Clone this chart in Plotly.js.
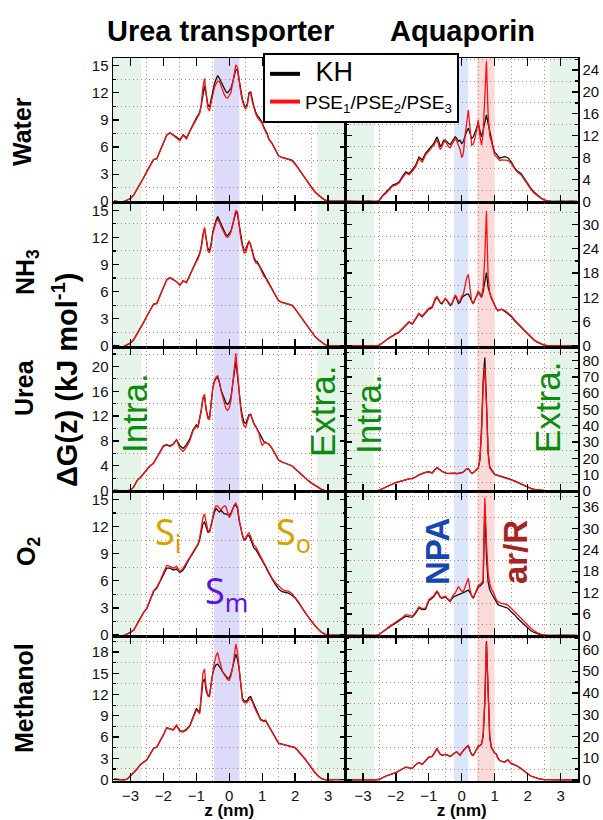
<!DOCTYPE html>
<html><head><meta charset="utf-8">
<script src="https://cdn.plot.ly/plotly-3.0.1.min.js"></script>
<style>body{margin:0;background:#fff}#chart{width:603px;height:820px}</style>
</head><body><div id="chart"></div>
<script>
// z (nm)
const z = [-3.5,-3.4,-3.3,-3.2,-3.1,-3.0,-2.9,-2.8,-2.7,-2.6,-2.5,-2.4,-2.3,-2.2,-2.1,-2.0,-1.9,-1.8,-1.7,-1.6,-1.5,-1.4,-1.3,-1.2,-1.1,
 -1.0,-0.95,-0.9,-0.85,-0.8,-0.75,-0.7,-0.65,-0.6,-0.55,-0.5,-0.45,-0.4,-0.35,-0.3,-0.25,-0.2,-0.15,-0.1,-0.05,0,
 0.05,0.1,0.15,0.2,0.25,0.3,0.35,0.4,0.45,0.5,0.55,0.6,0.65,0.7,0.75,0.8,0.85,0.9,0.95,1.0,1.05,1.1,1.15,1.2,
 1.3,1.4,1.5,1.6,1.7,1.8,1.9,2.0,2.1,2.2,2.3,2.4,2.5,2.6,2.7,2.8,2.9,3.0,3.1,3.2,3.3,3.4,3.5];

// Urea transporter
const utWaterKH = [0.05,0,-0.1,-0.05,0.1,0.3,0.7,1.3,2.0,2.6,3.3,4.0,4.6,4.7,5.5,6.5,7.3,7.55,7.35,7.1,6.8,7.35,7.0,7.8,8.5,
 9.2,9.5,9.8,10.6,12.0,12.8,11.8,10.7,10.4,11.2,12.3,13.0,13.5,13.9,13.6,13.2,12.8,12.4,12.1,12.0,12.2,
 12.5,13.1,13.8,14.6,14.5,13.3,12.2,11.3,10.7,10.4,10.8,12.0,12.1,11.2,10.5,9.9,9.5,9.3,9.0,8.7,8.2,7.9,7.5,6.9,
 6.4,5.7,5.0,4.85,4.75,4.65,4.55,4.15,3.6,3.0,2.5,2.0,1.5,1.05,0.7,0.4,0.15,0,0,0.02,0,0.02,0];
const utWaterPSE = [0.05,0,-0.1,-0.05,0.1,0.3,0.7,1.3,2.0,2.6,3.3,4.0,4.6,4.7,5.5,6.5,7.3,7.6,7.3,7.0,6.7,7.3,6.9,7.7,8.4,
 9.1,9.4,9.7,10.7,12.6,13.6,11.5,10.3,10.0,10.8,11.9,12.6,13.0,13.3,13.3,12.8,12.2,11.8,11.5,11.4,11.7,
 12.0,13.0,14.0,15.1,14.8,13.3,12.0,11.1,10.5,10.2,10.6,11.9,12.0,11.0,10.3,9.7,9.3,9.1,8.9,8.6,8.1,7.8,7.4,6.9,
 6.4,5.7,5.0,4.85,4.75,4.65,4.5,4.1,3.6,3.0,2.5,2.0,1.5,1.05,0.7,0.4,0.15,0,0,0.02,0,0.02,0];
const utNH3KH = [0.05,0,-0.1,-0.05,0.1,0.3,0.7,1.3,2.0,2.6,3.3,4.0,4.6,4.7,5.5,6.5,7.3,7.55,7.3,7.1,6.7,7.2,7.0,7.8,8.6,
 9.4,9.7,10.2,11.0,12.3,13.0,12.0,10.8,10.5,11.3,12.6,13.4,13.9,14.3,13.9,13.4,13.0,12.6,12.3,12.2,12.4,
 12.7,13.3,14.0,14.8,14.6,13.3,12.1,11.2,10.6,10.6,11.2,11.6,11.2,10.4,9.8,9.4,9.3,9.0,8.6,8.2,7.8,7.6,7.3,6.9,
 6.3,5.6,5.0,4.8,4.7,4.6,4.5,4.1,3.6,3.0,2.5,2.0,1.5,1.05,0.7,0.4,0.15,0,0,0.02,0,0.02,0];
const utNH3PSE = [0.05,0,-0.1,-0.05,0.1,0.3,0.7,1.3,2.0,2.6,3.3,4.0,4.6,4.7,5.5,6.5,7.3,7.55,7.3,7.1,6.7,7.2,7.0,7.8,8.6,
 9.3,9.6,10.1,10.9,12.3,13.1,11.8,10.5,10.3,11.1,12.4,13.2,13.7,14.0,13.7,13.2,12.8,12.4,12.1,12.0,12.2,
 12.6,13.3,14.1,15.0,14.8,13.3,11.9,11.0,10.3,10.3,11.0,11.6,11.1,10.2,9.6,9.2,9.1,8.9,8.5,8.1,7.7,7.5,7.2,6.9,
 6.3,5.6,5.0,4.8,4.7,4.6,4.5,4.1,3.6,3.0,2.5,2.0,1.5,1.05,0.7,0.4,0.15,0,0,0.02,0,0.02,0];
const utUreaKH = [0.05,0,-0.1,-0.1,0,0.05,0.6,1.6,2.1,2.7,3.4,4.0,4.4,5.3,6.2,7.2,7.4,7.2,7.5,8.2,7.2,6.8,7.4,8.3,9.8,
 10.6,10.3,11.5,13.0,14.8,15.0,13.0,11.9,11.7,14.0,16.5,17.6,18.1,18.2,17.4,16.2,15.5,14.8,14.1,13.9,14.2,
 15.0,17.2,19.2,20.8,18.5,15.7,13.5,12.0,11.0,10.8,11.6,12.2,12.3,11.5,10.8,10.4,10.0,9.4,8.9,8.4,7.9,7.7,7.6,7.5,
 6.8,5.8,4.9,4.6,4.4,4.3,4.0,3.5,3.0,2.5,2.0,1.6,1.2,0.85,0.5,0.2,0,-0.05,-0.05,0,0,0,0];
const utUreaPSE = [0.05,0,-0.1,-0.1,0,0.05,0.6,1.6,2.1,2.7,3.4,4.0,4.4,5.3,6.2,7.1,7.3,7.1,7.4,8.2,6.8,6.3,7.0,8.0,9.6,
 10.4,10.1,11.3,12.8,15.0,15.5,13.0,11.6,11.4,13.8,16.5,17.7,18.3,18.5,17.6,16.1,15.0,14.0,13.2,12.9,13.3,
 14.5,17.3,20.0,22.1,19.0,15.5,13.0,11.2,10.4,10.2,11.0,12.0,12.3,11.5,10.7,10.3,9.9,9.3,8.0,7.3,7.6,7.8,7.6,7.5,
 6.8,5.8,4.9,4.6,4.4,4.3,4.0,3.5,3.0,2.5,2.0,1.6,1.2,0.85,0.5,0.2,0,-0.05,-0.05,0,0,0,0];
const utO2KH = [0.05,0,-0.1,-0.05,0.1,0.3,0.55,1.2,2.0,2.5,2.95,3.9,4.8,5.2,5.9,6.7,7.4,7.4,7.2,7.3,6.9,7.2,7.9,8.5,9.1,
 9.75,10.0,10.5,11.4,12.3,12.5,11.8,11.4,11.4,12.2,13.0,13.6,14.0,13.8,13.6,13.8,13.6,13.4,13.4,13.3,13.2,
 13.5,14.0,14.3,14.4,14.0,12.7,11.8,11.0,10.5,10.6,11.0,11.0,10.6,10.0,9.6,9.5,9.2,8.9,8.5,8.27,8.0,7.6,7.2,6.8,
 6.2,5.6,5.1,4.8,4.7,4.65,4.4,4.1,3.6,3.0,2.5,2.0,1.5,1.05,0.65,0.3,0.1,0,0,0.02,0,0.02,0];
const utO2PSE = [0.05,0,-0.1,-0.05,0.1,0.3,0.55,1.2,2.0,2.5,3.0,4.0,4.9,5.3,6.0,6.9,7.7,7.6,7.4,7.6,7.0,7.4,8.0,8.6,9.2,
 9.8,10.1,10.7,11.8,13.0,13.4,12.5,11.6,11.4,12.3,13.2,13.9,14.3,14.3,14.0,13.9,14.1,14.3,14.2,13.5,13.0,
 13.3,13.9,14.4,14.6,14.2,12.8,11.9,11.1,10.6,10.7,11.1,11.3,10.9,10.3,9.9,9.8,9.5,9.1,8.7,8.4,8.1,7.7,7.3,6.9,
 6.3,5.8,5.4,5.1,4.9,4.85,4.6,4.2,3.7,3.1,2.5,2.0,1.5,1.05,0.65,0.3,0.1,0,0,0.02,0,0.02,0];
const utMethKH = [0.05,0,-0.1,-0.05,0.05,0.5,1.0,1.5,2.1,2.5,2.8,3.6,4.4,4.6,5.4,6.3,7.3,7.2,7.0,7.6,6.9,6.8,7.1,7.6,8.8,
 10.0,9.8,9.4,11.5,13.8,14.2,12.5,11.9,11.9,13.5,15.0,15.8,16.2,16.3,16.0,15.6,15.2,14.9,14.6,14.3,14.3,
 14.9,15.8,16.8,17.7,17.0,15.6,13.5,11.5,11.1,11.0,11.2,11.6,11.7,11.2,10.5,10.1,9.6,9.0,8.5,8.4,8.3,8.4,8.0,7.5,
 6.75,6.0,5.1,5.0,4.9,4.75,4.65,4.5,4.0,3.5,2.9,2.3,1.6,1.0,0.5,0.15,0,-0.05,-0.05,0,0,0,0];
const utMethPSE = [0.05,0,-0.1,-0.05,0.05,0.5,1.0,1.5,2.1,2.5,2.8,3.6,4.4,4.6,5.4,6.3,7.3,7.2,7.0,7.7,6.8,6.7,7.0,7.5,8.6,
 9.8,9.6,9.3,12.0,15.0,15.6,13.0,11.8,11.7,13.4,15.2,16.5,17.5,17.9,16.8,15.8,15.2,14.8,14.5,14.1,14.0,
 14.6,15.7,17.3,19.1,18.0,15.7,13.0,11.2,10.9,10.8,10.9,11.3,11.4,11.0,10.3,9.9,9.4,8.9,8.4,8.3,8.2,8.3,7.9,7.5,
 6.75,6.0,5.1,5.0,4.9,4.75,4.65,4.5,4.0,3.5,2.9,2.3,1.6,1.0,0.5,0.15,0,-0.05,-0.05,0,0,0,0];

// Aquaporin
const aqWaterKH = [0.05,0,0.05,0,0,0.05,0,0.05,0,0,0.2,1.1,1.7,2.3,3.0,3.2,3.6,4.6,5.4,5.1,5.8,6.6,8.1,7.6,8.8,
 9.5,9.8,10.3,10.6,11.2,11.8,11.0,10.0,10.5,11.2,11.2,10.8,10.6,10.4,10.8,11.4,11.8,11.5,11.0,11.2,10.5,
 11.0,12.0,12.8,13.4,12.5,11.5,11.8,12.5,13.3,14.2,13.0,11.8,13.0,14.8,15.8,14.2,12.5,11.5,10.0,9.0,8.7,8.3,7.9,8.0,
 8.2,8.0,7.3,6.2,5.5,5.1,4.2,3.2,2.4,1.7,1.15,0.7,0.3,0.1,0.05,0,0,0.05,0,0,0.05,0,0];
const aqWaterPSE = [0.05,0,0.05,0,0,0.05,0,0.05,0,0,0.2,1.0,1.5,2.1,2.8,3.0,3.4,4.3,5.2,4.9,5.5,6.3,7.8,7.2,8.5,
 9.2,9.5,10.0,10.2,10.8,11.3,10.3,9.5,10.0,10.8,11.0,10.4,10.0,9.8,10.4,11.0,11.5,11.0,10.2,9.5,8.0,
 8.8,12.0,15.0,16.7,13.5,10.3,10.5,11.5,13.0,14.9,12.0,10.3,12.5,20.0,25.6,16.0,12.0,11.0,9.6,8.5,8.2,7.8,7.5,7.6,
 7.6,7.5,7.0,6.0,5.3,4.9,4.0,3.0,2.2,1.5,1.0,0.6,0.25,0.1,0.05,0,0,0.05,0,0,0.05,0,0];
const aqNH3KH = [0.05,0,0.05,0,0,0.05,0,0.05,0,0,0.2,0.9,1.4,2.0,2.6,3.0,3.4,4.2,5.2,5.9,5.4,6.6,7.9,7.2,8.2,
 9.1,9.3,9.5,10.5,11.5,12.0,11.3,10.6,10.4,11.0,11.6,11.2,10.5,10.0,10.3,11.5,12.4,11.6,10.5,10.8,11.8,
 12.3,12.6,12.8,12.8,12.0,10.8,10.4,11.5,12.5,13.2,12.8,12.0,13.5,16.0,18.1,14.5,12.8,11.8,11.0,10.0,9.2,8.7,8.9,9.1,
 8.6,7.9,7.3,6.3,5.4,4.6,3.8,3.0,2.2,1.4,0.9,0.5,0.2,0.1,0,0,0,0.05,0,0,0.05,0,0];
const aqNH3PSE = [0.05,0,0.05,0,0,0.05,0,0.05,0,0,0.2,0.9,1.4,2.0,2.6,3.0,3.5,4.3,5.3,6.0,5.5,6.8,8.1,7.4,8.4,
 9.3,9.5,9.7,10.8,11.8,12.2,11.5,10.8,10.6,11.2,11.8,11.4,10.7,10.2,10.5,11.8,12.6,12.0,11.0,11.2,12.3,
 12.8,14.5,16.8,17.7,14.5,11.0,10.4,11.6,12.8,13.5,13.0,12.2,14.5,22.0,33.3,17.0,13.0,12.0,11.0,10.0,9.2,8.7,8.9,9.1,
 8.8,8.1,7.5,6.5,5.6,4.8,4.0,3.1,2.3,1.5,1.0,0.6,0.25,0.1,0,0,0,0.05,0,0,0.05,0,0];
const aqUreaKH = [0.1,0,0.1,0,0,0.1,0,0.1,0,0,0.5,1.5,2.6,3.4,4.2,5.0,5.7,6.3,7.0,7.4,7.7,8.5,9.8,10.7,11.3,
 11.7,11.5,11.0,12.2,13.5,14.4,13.5,12.6,12.0,11.5,11.0,10.7,10.7,10.8,10.6,10.7,10.9,10.6,10.7,10.9,11.2,
 11.6,12.5,13.5,13.6,12.0,10.8,11.2,12.2,12.6,14.0,19.0,38.0,68.0,82.0,55.0,24.0,14.5,12.8,11.0,10.2,9.8,9.4,9.0,8.7,
 8.2,7.6,7.0,6.2,5.2,4.2,3.0,2.2,1.5,0.9,0.6,0.3,0.1,0,0,0.1,0,0,0.1,0,0,0.1,0];
const aqUreaPSE = [0.1,0,0.1,0,0,0.1,0,0.1,0,0,0.5,1.5,2.6,3.4,4.2,5.0,5.7,6.3,7.0,7.4,7.7,8.5,9.8,10.7,11.3,
 11.6,11.4,11.0,12.0,13.3,14.2,13.4,12.5,11.9,11.4,10.9,10.6,10.6,10.7,10.5,10.6,10.8,10.5,10.6,10.8,11.1,
 11.6,12.5,13.5,13.6,12.0,10.8,11.2,12.2,12.6,14.0,19.0,36.0,64.0,76.0,53.0,23.0,14.0,12.5,10.8,10.0,9.6,9.2,8.9,8.6,
 8.0,7.4,6.8,6.0,5.0,4.0,2.9,2.1,1.4,0.8,0.5,0.3,0.1,0,0,0.1,0,0,0.1,0,0,0.1,0];
const aqO2KH = [0.05,0,0.05,0,0,0.05,0,0.05,0,0,0.3,1.0,1.7,2.3,2.9,3.5,4.1,4.7,5.4,5.2,5.1,6.2,7.7,7.2,7.3,
 9.7,10.0,10.3,10.8,11.6,12.2,11.5,10.6,10.4,10.6,10.8,10.3,9.8,9.5,10.2,10.8,11.0,11.2,11.3,11.4,11.6,
 11.9,12.2,12.5,12.7,12.0,11.0,10.4,11.5,12.8,13.5,13.8,14.2,14.8,36.8,22.0,15.0,12.8,11.8,10.9,10.0,9.2,8.6,8.4,8.2,
 8.0,7.6,6.6,5.8,4.7,3.8,2.9,2.0,1.3,0.8,0.4,0.15,0.05,0,0,0,0,0.05,0,0,0.05,0,0];
const aqO2PSE = [0.05,0,0.05,0,0,0.05,0,0.05,0,0,0.3,1.1,1.9,2.5,3.1,3.7,4.4,5.0,5.8,5.5,5.4,6.5,8.0,7.5,7.6,
 10.0,10.3,10.6,11.1,11.9,12.4,11.7,10.8,10.6,10.8,11.0,10.5,10.0,9.7,10.6,11.5,11.8,12.8,13.7,13.0,12.4,
 12.3,13.5,15.0,16.0,13.0,11.0,10.4,11.6,13.0,14.0,14.3,14.6,15.5,38.6,26.0,17.5,14.5,13.0,12.3,11.0,10.0,9.5,9.2,9.0,
 8.8,8.5,7.6,6.7,5.7,4.7,3.8,2.8,2.0,1.3,0.7,0.35,0.1,0,0,0,0,0.05,0,0,0.05,0,0];
const aqMethKH = [0.05,0,0.05,0,0,0.05,0,0.05,0,0,0.3,1.1,1.8,2.3,2.8,3.35,4.2,5.0,5.9,5.5,5.3,7.0,8.0,7.1,8.6,
 10.5,10.6,10.8,12.0,13.5,14.3,13.0,11.8,11.3,11.5,11.7,11.5,11.0,10.8,11.3,12.2,12.6,12.8,12.0,11.3,12.5,
 13.8,14.5,15.2,15.8,13.5,11.8,11.3,12.5,14.0,15.5,15.8,16.5,20.0,35.0,63.8,40.0,20.0,15.0,13.5,12.5,12.0,10.0,9.0,8.6,
 8.2,9.2,7.6,7.0,6.3,5.2,3.8,2.8,1.8,1.2,0.6,0.3,0.1,0,0,0,0.05,0,0,0.05,0,0,0];
const aqMethPSE = [0.05,0,0.05,0,0,0.05,0,0.05,0,0,0.3,1.1,1.8,2.3,2.8,3.35,4.2,5.0,5.9,5.5,5.3,7.0,8.0,7.1,8.6,
 10.5,10.6,10.8,12.0,13.5,14.3,13.0,11.8,11.3,11.5,11.7,11.5,11.0,10.8,11.3,12.2,12.6,12.8,12.0,11.3,12.5,
 13.6,14.3,15.0,15.6,13.3,11.6,11.2,12.4,13.9,15.4,15.6,16.3,21.0,36.4,63.0,38.0,19.0,14.8,13.3,12.3,11.8,9.8,8.9,8.5,
 8.2,9.2,7.6,7.0,6.3,5.2,3.8,2.8,1.8,1.2,0.6,0.3,0.1,0,0,0,0.05,0,0,0.05,0,0,0];

// Regions (nm)
const bulkEdge = [-2.67, 2.67];
const utSmBand = [-0.46, 0.31];
const aqNpaBand = [-0.23, 0.2];
const aqArBand = [0.47, 1.0];

const seriesNames = ['KH', 'PSE<sub>1</sub>/PSE<sub>2</sub>/PSE<sub>3</sub>'];
const rowLabels = ['Water', 'NH<sub>3</sub>', 'Urea', 'O<sub>2</sub>', 'Methanol'];
const colTitles = ['Urea transporter', 'Aquaporin'];

const XR = [-3.53, 3.53];
const panels = [
  {kh: utWaterKH, pse: utWaterPSE, yr: [-0.15, 15.85], dt: 3},
  {kh: aqWaterKH, pse: aqWaterPSE, yr: [-0.2, 26.2], dt: 4},
  {kh: utNH3KH, pse: utNH3PSE, yr: [-0.15, 15.85], dt: 3},
  {kh: aqNH3KH, pse: aqNH3PSE, yr: [-0.3, 35.4], dt: 6},
  {kh: utUreaKH, pse: utUreaPSE, yr: [-0.2, 23.1], dt: 4},
  {kh: aqUreaKH, pse: aqUreaPSE, yr: [-0.6, 88.3], dt: 10},
  {kh: utO2KH, pse: utO2PSE, yr: [-0.15, 15.85], dt: 3},
  {kh: aqO2KH, pse: aqO2PSE, yr: [-0.3, 40.3], dt: 6},
  {kh: utMethKH, pse: utMethPSE, yr: [-0.2, 20.2], dt: 3},
  {kh: aqMethKH, pse: aqMethPSE, yr: [-0.5, 66], dt: 10}
];

const FONT = 'Liberation Sans, Arial, sans-serif';
const GRID = 'rgba(205,80,80,0.75)';
const GDASH = '1px,3px';
const M = {l: 113, r: 25, t: 58, b: 39};
const W = 603 - M.l - M.r, H = 820 - M.t - M.b;
const px = x => (x - M.l) / W;
const py = y => (820 - M.b - y) / H;

const traces = [];
const layout = {
  width: 603, height: 820, margin: M,
  paper_bgcolor: '#fff', plot_bgcolor: '#fff',
  showlegend: true,
  legend: {x: px(263), y: py(53), xanchor: 'left', yanchor: 'top', bgcolor: '#fff',
    bordercolor: '#000', borderwidth: 2, font: {family: FONT, size: 19, color: '#000'},
    itemwidth: 30, tracegroupgap: 0},
  shapes: [], annotations: []
};

panels.forEach((p, i) => {
  const n = i + 1, r = Math.floor(i / 2), c = i % 2;
  const sfx = n === 1 ? '' : String(n);
  traces.push({x: z, y: p.kh, xaxis: 'x' + sfx, yaxis: 'y' + sfx, mode: 'lines',
    line: {color: '#111', width: 1.3}, showlegend: false, hoverinfo: 'skip'});
  traces.push({x: z, y: p.pse, xaxis: 'x' + sfx, yaxis: 'y' + sfx, mode: 'lines',
    line: {color: '#ff1010', width: 1.3}, showlegend: false, hoverinfo: 'skip'});
  layout['xaxis' + sfx] = {
    domain: c === 0 ? [0, 0.5] : [0.5, 1], anchor: 'y' + sfx, range: XR,
    tick0: 0, dtick: 1, ticks: 'inside', ticklen: 8, tickwidth: 1.3, tickcolor: '#000',
    showline: true, linecolor: '#000', linewidth: 1.5, mirror: 'ticks',
    showgrid: false, zeroline: false, showticklabels: r === 4,
    tickfont: {family: FONT, size: 15, color: '#111'},
    minor: {tick0: 0.5, dtick: 1, showgrid: true, gridcolor: GRID, griddash: GDASH, gridwidth: 1},
    title: r === 4 ? {text: '<b>z (nm)</b>', font: {family: FONT, size: 17, color: '#000'}, standoff: 3} : {text: ''}
  };
  layout['yaxis' + sfx] = {
    domain: [1 - (r + 1) / 5, 1 - r / 5], anchor: 'x' + sfx, side: c === 0 ? 'left' : 'right',
    range: p.yr, tick0: 0, dtick: p.dt, ticks: 'inside', ticklen: 6, tickwidth: 1.2, tickcolor: '#000',
    showline: true, linecolor: '#000', linewidth: 1.5, mirror: 'ticks',
    showgrid: false, zeroline: false,
    tickfont: {family: FONT, size: 15, color: '#111'},
    minor: {tick0: p.dt / 2, dtick: p.dt, ticks: 'inside', ticklen: 3, tickcolor: '#000',
      showgrid: true, gridcolor: GRID, griddash: GDASH, gridwidth: 1}
  };
  const band = (x0, x1, col) => layout.shapes.push({type: 'rect', xref: 'x' + sfx, yref: 'y' + sfx + ' domain',
    x0: x0, x1: x1, y0: 0, y1: 1, fillcolor: col, line: {width: 0}, layer: 'below'});
  band(XR[0], bulkEdge[0], '#e5f4e8');
  band(bulkEdge[1], XR[1], '#e5f4e8');
  if (c === 0) {
    band(utSmBand[0], utSmBand[1], '#dcdcfa');
  } else {
    band(aqNpaBand[0], aqNpaBand[1], '#dbe6fa');
    band(aqArBand[0], aqArBand[1], '#fbdada');
  }
});

// legend entries
traces.push({x: [null], y: [null], mode: 'lines', name: '\u00a0\u00a0<span style="font-size:27px">' + seriesNames[0] + '</span>',
  line: {color: '#000', width: 4}, xaxis: 'x', yaxis: 'y'});
traces.push({x: [null], y: [null], mode: 'lines', name: seriesNames[1],
  line: {color: '#ff1010', width: 4}, xaxis: 'x', yaxis: 'y'});

const ann = (text, x, y, size, color, angle, family, bold) => layout.annotations.push({
  text: bold ? '<b>' + text + '</b>' : text, x: px(x), y: py(y), xref: 'paper', yref: 'paper',
  showarrow: false, textangle: angle || 0, xanchor: 'center', yanchor: 'middle',
  font: {family: family || FONT, size: size, color: color}});

ann(colTitles[0], 220, 31, 29, '#000', 0, FONT, true);
ann(colTitles[1], 462, 31, 29, '#000', 0, FONT, true);
ann(rowLabels[0], 22, 132, 25, '#000', -90, FONT, true);
ann(rowLabels[1], 27, 272, 25, '#000', -90, FONT, true);
ann(rowLabels[2], 24, 388, 25, '#000', -90, FONT, true);
ann(rowLabels[3], 28, 552, 25, '#000', -90, FONT, true);
ann(rowLabels[4], 24, 698, 25, '#000', -90, FONT, true);
ann('\u0394G(z) (kJ mol<sup>-1</sup>)', 65, 380, 29, '#000', -90, FONT, true);
ann('Intra.', 134, 413, 35, '#0b8a0b', -90);
ann('Extra.', 322, 412, 35, '#0b8a0b', -90);
ann('Intra.', 368, 414, 35, '#0b8a0b', -90);
ann('Extra.', 548, 408, 35, '#0b8a0b', -90);
ann('S<sub>i</sub>', 168, 533, 36, '#d6a200', 0, 'Noto Sans, sans-serif');
ann('S<sub>o</sub>', 293, 533, 36, '#d6a200', 0, 'Noto Sans, sans-serif');
ann('S<sub>m</sub>', 226, 592, 36, '#5a14e6', 0, 'Noto Sans, sans-serif');
ann('NPA', 437, 552, 33, '#1446b4', -90, FONT, true);
ann('ar/R', 515, 552, 33, '#a52323', -90, FONT, true);

Plotly.newPlot('chart', traces, layout, {staticPlot: true});
</script>
</body></html>
